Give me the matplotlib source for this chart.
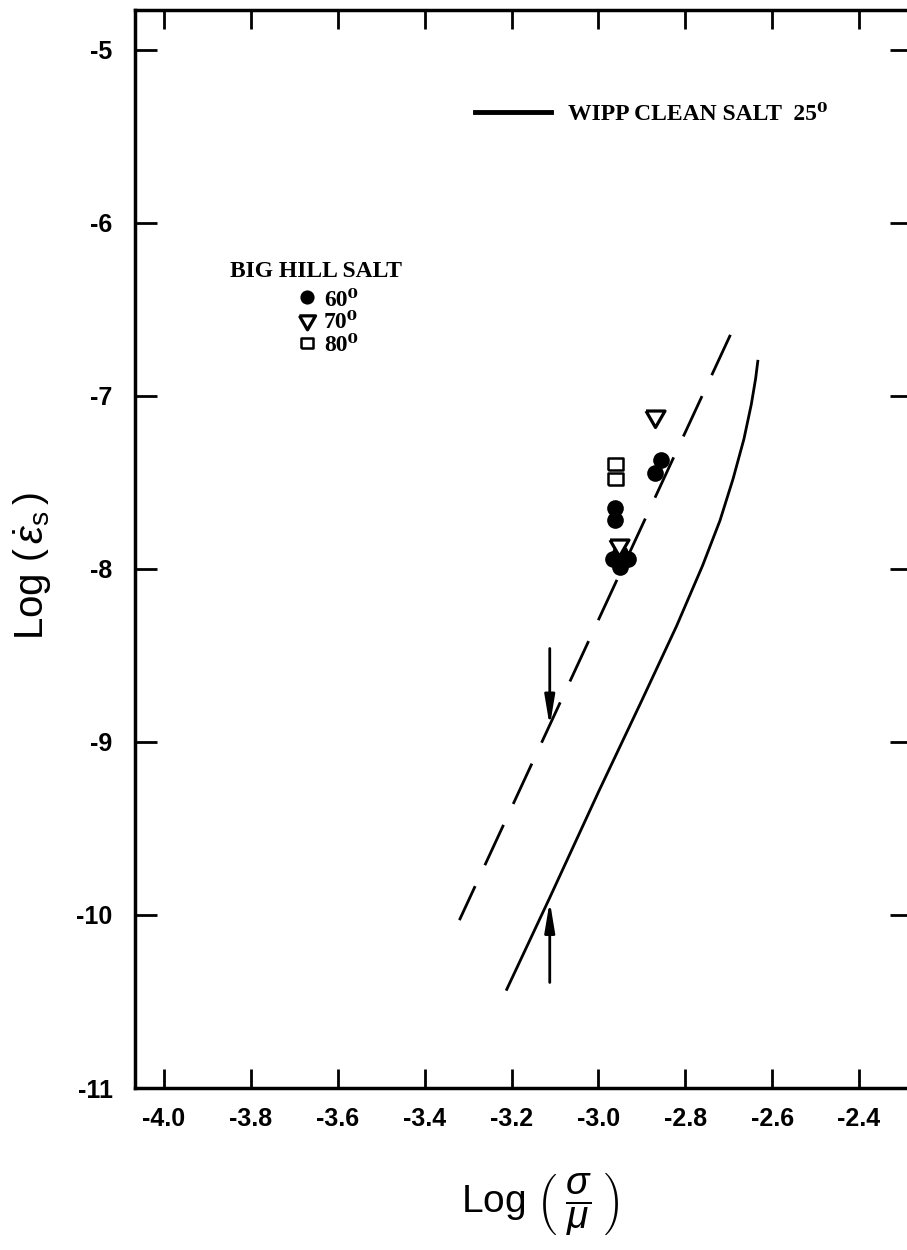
import matplotlib
matplotlib.use('Agg')
import matplotlib.pyplot as plt
from matplotlib.lines import Line2D

plt.rcParams['font.family'] = ['Liberation Sans', 'DejaVu Sans']
plt.rcParams['axes.unicode_minus'] = False
plt.rcParams['mathtext.fontset'] = 'custom'
plt.rcParams['mathtext.rm'] = 'Liberation Sans'
plt.rcParams['mathtext.it'] = 'Liberation Sans:italic'

# WIPP clean salt 25 deg (solid curve)
wipp_x = [-3.211, -3.112, -3.0, -2.9, -2.82, -2.76, -2.72, -2.69, -2.665, -2.648, -2.638, -2.633]
wipp_y = [-10.43, -9.90, -9.29, -8.76, -8.33, -7.98, -7.72, -7.48, -7.25, -7.05, -6.90, -6.80]

# dashed line through Big Hill data
dash_x = [-3.32, -2.68]
dash_y = [-10.03, -6.56]

# Big Hill salt points
t60_x = [-2.856, -2.870, -2.961, -2.961, -2.966, -2.932, -2.950, -2.950]
t60_y = [-7.37, -7.445, -7.647, -7.717, -7.94, -7.94, -7.99, -7.91]
t70_x = [-2.869, -2.952]
t70_y = [-7.115, -7.864]
t80_x = [-2.961, -2.961]
t80_y = [-7.393, -7.480]

# arrows
arrow_x = -3.112
arrow_down = (-8.46, -8.91)
arrow_up = (-10.39, -9.92)

xticks = [-4.0, -3.8, -3.6, -3.4, -3.2, -3.0, -2.8, -2.6, -2.4]
xlabels = ['-4.0', '-3.8', '-3.6', '-3.4', '-3.2', '-3.0', '-2.8', '-2.6', '-2.4']
yticks = [-11, -10, -9, -8, -7, -6, -5]
ylabels = ['-11', '-10', '-9', '-8', '-7', '-6', '-5']

# closed marker outlines
tri = [(-1, 0.577), (1, 0.577), (0, -1.155), (-1, 0.577)]
rect = [(-1, -0.82), (1, -0.82), (1, 0.82), (-1, 0.82), (-1, -0.82)]

fig = plt.figure(figsize=(9.07, 12.5), dpi=100)
ax = fig.add_axes([0.1488, 0.1296, 0.8567, 0.8624])

ax.plot(wipp_x, wipp_y, color='black', lw=2)
ax.plot(dash_x, dash_y, color='black', lw=2, linestyle=(2.5, (16, 8.3)))

h60, = ax.plot(t60_x, t60_y, 'o', color='black', ms=12, mew=0)
h70, = ax.plot(t70_x, t70_y, linestyle='none', marker=tri, ms=15.8,
               mfc='white', mec='black', mew=2.3)
h80, = ax.plot(t80_x, t80_y, linestyle='none', marker=rect, ms=10.8,
               mfc='white', mec='black', mew=1.8)

astyle = dict(arrowstyle='-|>,head_length=0.9,head_width=0.15', color='black',
              lw=2, shrinkA=0, shrinkB=0, mutation_scale=20)
ax.annotate('', xy=(arrow_x, arrow_down[1]), xytext=(arrow_x, arrow_down[0]), arrowprops=astyle)
ax.annotate('', xy=(arrow_x, arrow_up[1]), xytext=(arrow_x, arrow_up[0]), arrowprops=astyle)

ax.set_xlim(-4.067, -2.278)
ax.set_ylim(-11, -4.77)
ax.set_xticks(xticks, xlabels)
ax.set_yticks(yticks, ylabels)
ax.tick_params(direction='in', top=True, right=True, width=2, labelsize=18)
ax.tick_params(axis='x', length=14, pad=14)
ax.tick_params(axis='y', length=16, pad=16)
for lab in ax.get_xticklabels() + ax.get_yticklabels():
    lab.set_fontweight('bold')
for sp in ax.spines.values():
    sp.set_linewidth(2.5)

ax.set_xlabel(r'Log $\left(\;\dfrac{\sigma}{\mu}\;\right)$', fontsize=28)
ax.xaxis.set_label_coords(0.522, -0.076)
ax.set_ylabel(r'Log $\left(\,\dot{\varepsilon}_{\rm s}\,\right)$', fontsize=29)
ax.yaxis.set_label_coords(-0.104, 0.484)

serif = ['Liberation Serif', 'DejaVu Serif']
ax.text(0.122, 0.757, 'BIG HILL SALT', transform=ax.transAxes, fontsize=17,
        fontweight='bold', family=serif, va='center', ha='left')
leg1 = ax.legend([h60, h70, h80], ['60\u2070', '70\u2070', '80\u2070'],
                 loc='upper left', bbox_to_anchor=(0.2098, 0.741), frameon=False,
                 numpoints=1, handlelength=0.75, handletextpad=0.35, labelspacing=0.05,
                 borderpad=0, borderaxespad=0, markerscale=0.85,
                 prop={'family': serif, 'weight': 'bold', 'size': 17})
ax.add_artist(leg1)
wipp_key = Line2D([], [], color='black', lw=3.5)
ax.legend([wipp_key], ['WIPP CLEAN SALT  25\u2070'], loc='center left',
          bbox_to_anchor=(0.4376, 0.9035), frameon=False, handlelength=3.2,
          handletextpad=0.75, borderpad=0, borderaxespad=0,
          prop={'family': serif, 'weight': 'bold', 'size': 17})

fig.savefig('out.png', dpi=100, facecolor='white')
